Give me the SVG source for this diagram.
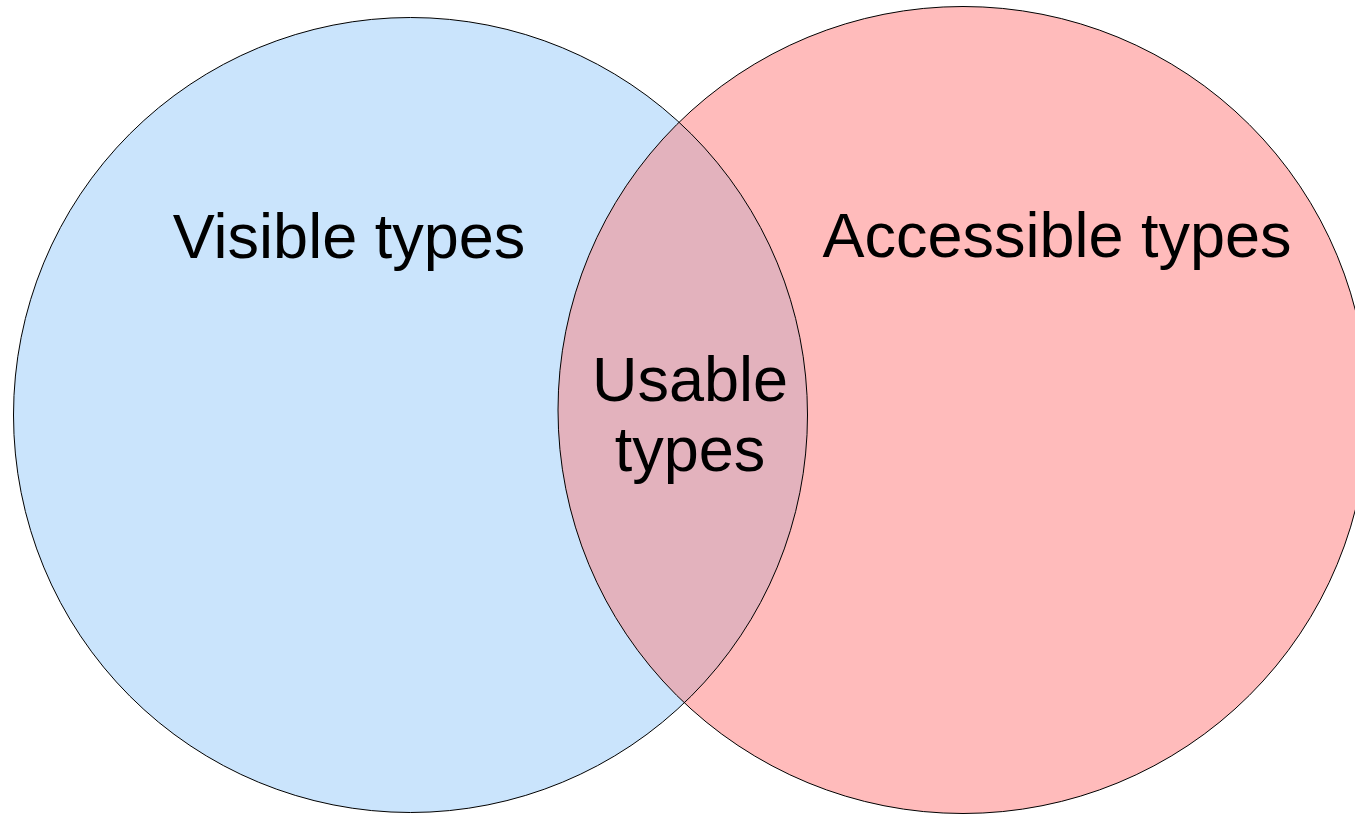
<svg xmlns="http://www.w3.org/2000/svg" width="1355" height="816" viewBox="0 0 1355 816">
  <style>
    .label { font-family: "Liberation Sans", Arial, sans-serif; font-size: 63px; fill: #000000; text-anchor: middle; }
    .outline { fill: none; stroke: #000000; stroke-width: 1; }
  </style>
  <defs>
    <clipPath id="clip-visible">
      <ellipse cx="410.5" cy="415" rx="397" ry="397.5"/>
    </clipPath>
  </defs>
  <rect width="1355" height="816" fill="#ffffff"/>

  <g id="visible-types">
    <ellipse cx="410.5" cy="415" rx="397" ry="397.5" fill="#cae4fc"/>
    <text class="label" x="349" y="257.5">Visible types</text>
  </g>

  <g id="accessible-types">
    <ellipse cx="963" cy="410" rx="405" ry="403.5" fill="#ffbbbb"/>
    <text class="label" x="1057" y="256.5">Accessible types</text>
  </g>

  <g id="usable-types">
    <!-- overlap of the two sets -->
    <ellipse cx="963" cy="410" rx="405" ry="403.5" fill="#e3b2bd" clip-path="url(#clip-visible)"/>
    <text class="label" x="690" y="401">Usable</text>
    <text class="label" x="690" y="471">types</text>
  </g>

  <g id="outlines">
    <ellipse class="outline" cx="410.5" cy="415" rx="397" ry="397.5"/>
    <ellipse class="outline" cx="963" cy="410" rx="405" ry="403.5"/>
  </g>
</svg>
